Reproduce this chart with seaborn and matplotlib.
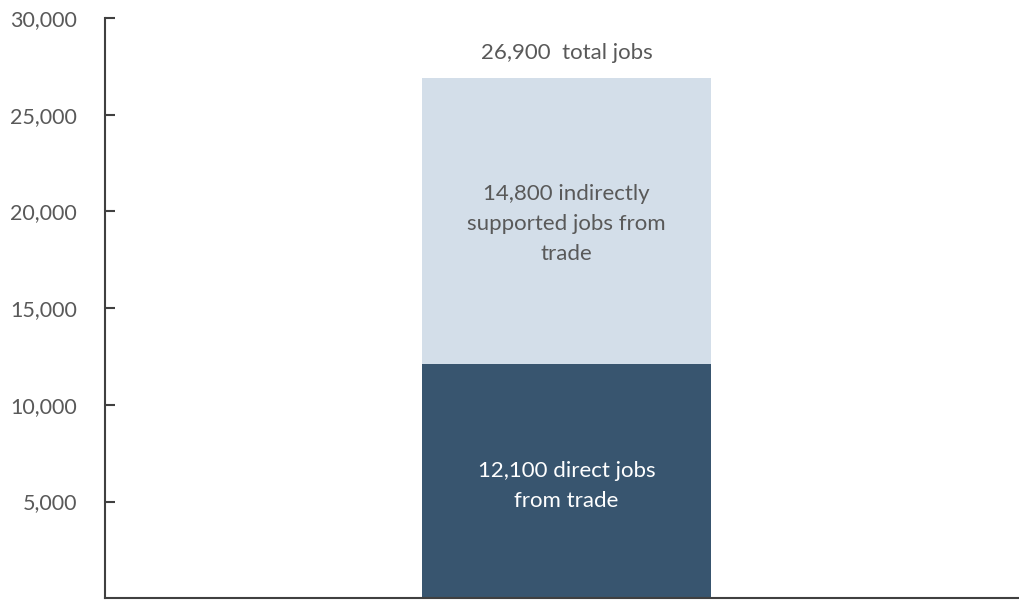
import seaborn as sns
import pandas as pd
import numpy as np
import matplotlib.pyplot as plt

# data
category = ["Jobs"]
direct_jobs = [12100]
indirect_jobs = [14800]
total_jobs = [d + i for d, i in zip(direct_jobs, indirect_jobs)]
yticks = [5000, 10000, 15000, 20000, 25000, 30000]

sns.set_style("white")
plt.rcParams['font.family'] = ['Lato', 'DejaVu Sans']

df = pd.DataFrame({"cat": category, "direct": direct_jobs, "total": total_jobs})

fig = plt.figure(figsize=(10.19, 6), dpi=100)
ax = fig.add_axes([0.103, 0.003, 0.897, 0.967])

# stacked bar: total first (light), direct on top (dark)
sns.barplot(data=df, x="cat", y="total", color="#D3DEE9", width=0.317, saturation=1,
            linewidth=0, ax=ax)
sns.barplot(data=df, x="cat", y="direct", color="#38556F", width=0.317, saturation=1,
            linewidth=0, ax=ax)

ax.set_xlim(-0.505, 0.495)
ax.set_ylim(0, 30000)
ax.set_yticks(yticks)
ax.set_yticklabels([f"{v:,}" for v in yticks])
ax.set_xticks([])
ax.set_xlabel("")
ax.set_ylabel("")

grey = "#595959"
ax.tick_params(axis="y", direction="in", length=7, width=1.5, color="#404040",
               labelsize=15.5, labelcolor=grey, pad=20, left=True)
for s in ["top", "right"]:
    ax.spines[s].set_visible(False)
for s in ["left", "bottom"]:
    ax.spines[s].set_color("#404040")
    ax.spines[s].set_linewidth(1.5)

# labels
ax.text(0, total_jobs[0] + 1300, f"{total_jobs[0]:,}  total jobs", ha="center", va="center",
        fontsize=16, color=grey)
ax.text(0, direct_jobs[0] + indirect_jobs[0] / 2 - 150, f"{indirect_jobs[0]:,} indirectly\nsupported jobs from\ntrade",
        ha="center", va="center", fontsize=16, color=grey, linespacing=1.65)
ax.text(0, direct_jobs[0] / 2 - 250, f"{direct_jobs[0]:,} direct jobs\nfrom trade",
        ha="center", va="center", fontsize=16, color="white", linespacing=1.65)

plt.savefig("out.png", dpi=100)
